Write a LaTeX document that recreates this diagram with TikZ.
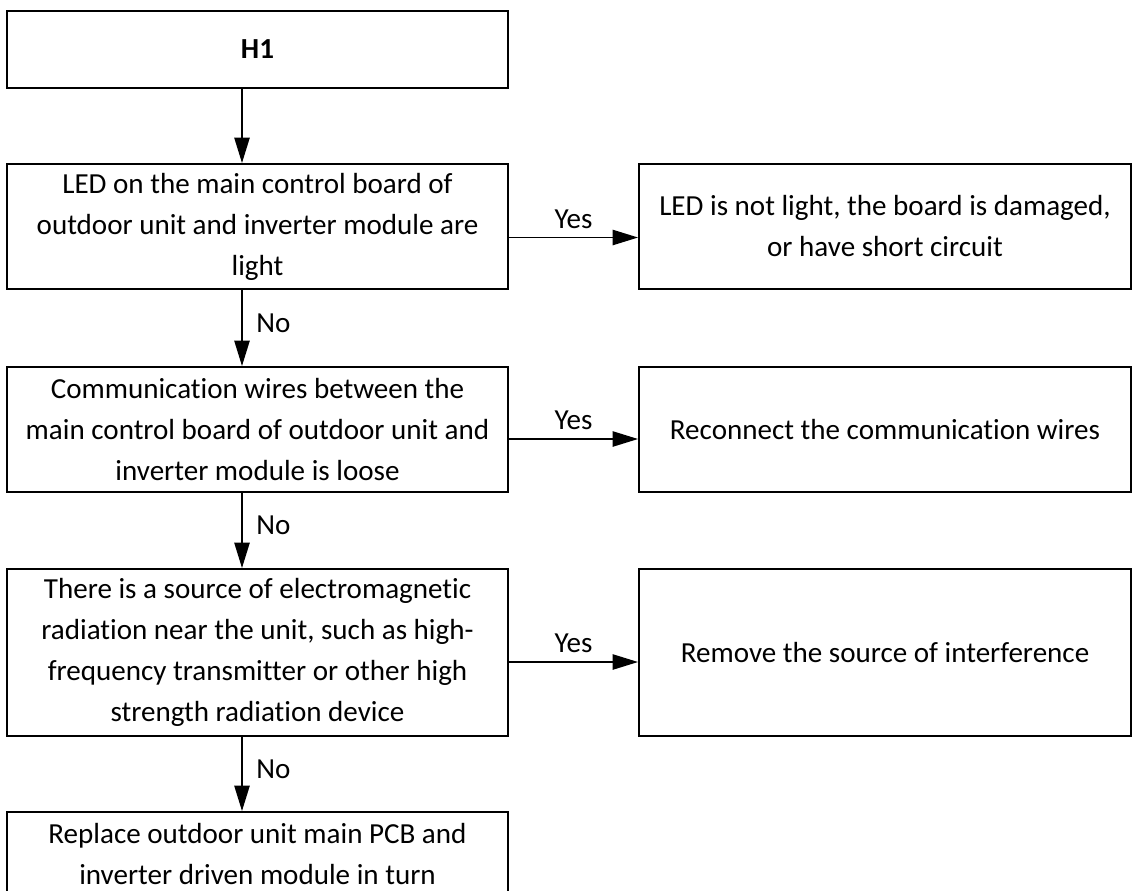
\documentclass[tikz,border=0pt]{standalone}
\usepackage{fontspec}
\setmainfont{Carlito}[Ligatures=NoCommon]
\usetikzlibrary{arrows.meta,calc}

\tikzset{
  box/.style={draw, line width=1.5pt, align=center, inner sep=0pt,
    font=\fontsize{21.8}{30.75}\selectfont},
  qbox/.style={box, minimum width=375.75pt},
  abox/.style={box, minimum width=369pt},
  flow/.style={-{Triangle[length=19pt,width=11.5pt]}, line width=1pt},
  lbl/.style={font=\fontsize{21.8}{26}\selectfont}
}

\begin{document}
\begin{tikzpicture}[x=0.75pt, y=-0.75pt]
  \clip (0,0) rectangle (1132,890);
  \fill[white] (0,0) rectangle (1132,890);

  % left column
  \node[qbox, minimum height=57.75pt, font=\fontsize{21.8}{26}\selectfont\bfseries] (h1) at (257.5,49.5) {H1};
  \node[qbox, minimum height=93.75pt] (q1) at (257.5,226.5)
    {LED on the main control board of\\outdoor unit and inverter module are\\light};
  \node[qbox, minimum height=93.75pt] (q2) at (257.5,429.5)
    {Communication wires between the\\main control board of outdoor unit and\\inverter module is loose};
  \node[qbox, minimum height=125.25pt] (q3) at (257.5,652.5)
    {There is a source of electromagnetic\\radiation near the unit, such as high-\\frequency transmitter or other high\\strength radiation device};
  \node[qbox, minimum height=63pt] (q4) at (257.5,854)
    {Replace outdoor unit main PCB and\\inverter driven module in turn};

  % right column
  \node[abox, minimum height=93.75pt] (a1) at (885,226.5)
    {LED is not light, the board is damaged,\\or have short circuit};
  \node[abox, minimum height=93.75pt] (a2) at (885,429.5)
    {Reconnect the communication wires};
  \node[abox, minimum height=125.25pt] (a3) at (885,652.5)
    {Remove the source of interference};

  % down
  \draw[flow] ($(h1.south)+(-15.5,0)$) -- ($(q1.north)+(-15.5,0)$);
  \draw[flow] ($(q1.south)+(-15.5,0)$) -- node[lbl, right=7pt, yshift=3.75pt] {No} ($(q2.north)+(-15.5,0)$);
  \draw[flow] ($(q2.south)+(-15.5,0)$) -- node[lbl, right=7pt, yshift=3.75pt] {No} ($(q3.north)+(-15.5,0)$);
  \draw[flow] ($(q3.south)+(-15.5,0)$) -- node[lbl, right=7pt, yshift=3.75pt] {No} ($(q4.north)+(-15.5,0)$);

  % across
  \draw[flow] ($(q1.east)+(0,11)$) -- node[lbl, above=3pt] {Yes} ($(a1.west)+(0,11)$);
  \draw[flow] ($(q2.east)+(0,9.5)$) -- node[lbl, above=3pt] {Yes} ($(a2.west)+(0,9.5)$);
  \draw[flow] ($(q3.east)+(0,9.5)$) -- node[lbl, above=3pt] {Yes} ($(a3.west)+(0,9.5)$);
\end{tikzpicture}
\end{document}
